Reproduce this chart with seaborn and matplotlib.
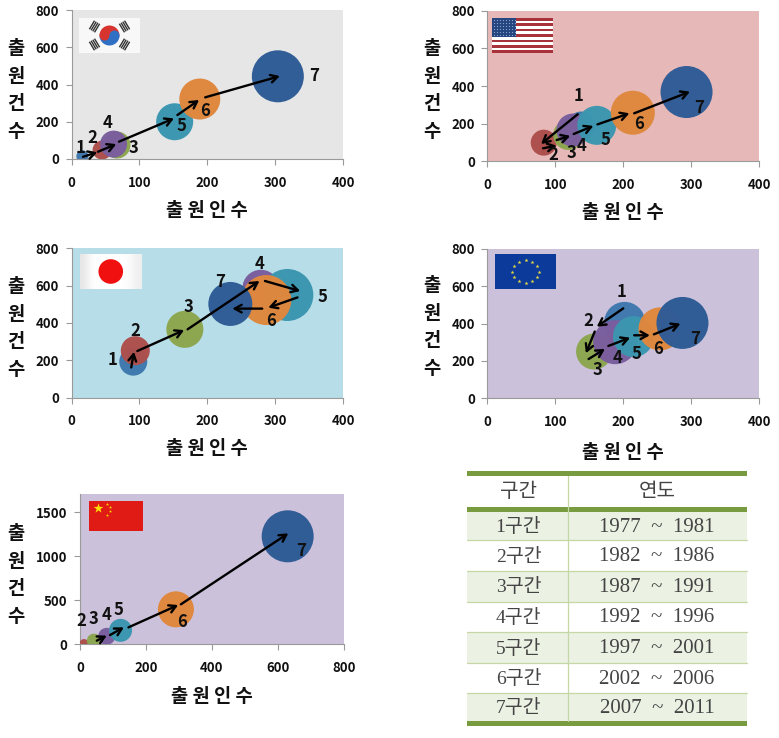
import numpy as np
import pandas as pd
import matplotlib
matplotlib.use("Agg")
import matplotlib.pyplot as plt
from matplotlib.patches import Rectangle, Circle, Wedge
import seaborn as sns

W, H = 779, 738

# ---------- data ----------
stages = [1, 2, 3, 4, 5, 6, 7]
kr_x = [16, 45, 67, 62, 152, 189, 304]
kr_y = [15, 48, 75, 80, 200, 322, 444]
kr_size = [12, 19, 27, 27, 37, 41, 52]
kr_ax0 = [17, 39, 70, 156, 197]
kr_ay0 = [12, 39, 93, 236, 331]
kr_ax1 = [38, 66, 151, 188, 307]
kr_ay1 = [36, 80, 218, 317, 445]

us_x = [138, 83, 119, 126, 161, 214, 293]
us_y = [190, 99, 140, 166, 191, 258, 368]
us_size = [28, 26, 30, 33, 39, 44, 52]
us_ax0 = [133, 82, 102, 127, 162, 216]
us_ay0 = [250, 69, 113, 145, 196, 255]
us_ax1 = [79, 102, 122, 156, 209, 298]
us_ay1 = [92, 83, 135, 188, 255, 370]

jp_x = [91, 94, 167, 279, 318, 287, 234]
jp_y = [193, 252, 366, 586, 550, 523, 502]
jp_size = [28, 29, 37, 37, 52, 50, 44]
jp_ax0 = [88, 97, 171, 285, 333, 281]
jp_ay0 = [162, 250, 366, 625, 537, 477]
jp_ax1 = [92, 166, 277, 337, 290, 237]
jp_ay1 = [246, 362, 625, 571, 482, 477]

eu_x = [202, 188, 157, 188, 215, 254, 287]
eu_y = [406, 310, 250, 300, 330, 371, 403]
eu_size = [41, 20, 36, 44, 41, 43, 52]
eu_ax0 = [200, 158, 149, 178, 216, 245]
eu_ay0 = [481, 357, 210, 280, 337, 342]
eu_ax1 = [161, 145, 173, 210, 239, 284]
eu_ay1 = [383, 241, 264, 324, 337, 399]

cn_x = [12, 42, 81, 123, 291, 630]
cn_y = [5, 38, 87, 155, 394, 1224]
cn_size = [9, 14, 17, 23, 36, 52]
cn_stage = [2, 3, 4, 5, 6, 7]
cn_ax0 = [51, 91, 147, 306]
cn_ay0 = [38, 102, 189, 451]
cn_ax1 = [81, 133, 298, 632]
cn_ay1 = [95, 189, 443, 1258]

table_head = ["구간", "연도"]
table_periods = ["1구간", "2구간", "3구간", "4구간", "5구간", "6구간", "7구간"]
table_years = ["1977  ~  1981", "1982  ~  1986", "1987  ~  1991", "1992  ~  1996",
               "1997  ~  2001", "2002  ~  2006", "2007  ~  2011"]

x_label = "출 원 인 수"
y_label = "출\n원\n건\n수"

# ---------- style ----------
sns.set_theme(style="ticks")
KR = ["Noto Sans CJK KR", "DejaVu Sans"]
plt.rcParams["font.family"] = KR
palette = {1: "#3F78AE", 2: "#AD4F4C", 3: "#8CA64E", 4: "#7A5E9E",
           5: "#3B96AF", 6: "#DF873D", 7: "#2E5B96"}
GRAY = "#9a9a9a"

fig = plt.figure(figsize=(W / 100, H / 100), dpi=100, facecolor="white")


def px_axes(l, t, r, b, **kw):
    return fig.add_axes([l / W, 1 - b / H, (r - l) / W, (b - t) / H], **kw)


def panel(box, bg, xlim, ylim, xt, yt, st, xs, ys, ds, a0x, a0y, a1x, a1y, offs, xl_px, yl_px):
    l, t, r, b = box
    ax = px_axes(l, t, r, b)
    ax.set_facecolor(bg)
    df = pd.DataFrame({"x": xs, "y": ys, "d": ds, "stage": st})
    sns.scatterplot(data=df, x="x", y="y", hue="stage", palette=palette, size="d",
                    sizes={d: (d * 0.72) ** 2 for d in set(ds)}, legend=False,
                    linewidth=0, alpha=0.98, ax=ax, zorder=3)
    ax.set_xlim(*xlim)
    ax.set_ylim(*ylim)
    ax.set_xticks(xt)
    ax.set_yticks(yt)
    ax.tick_params(length=4, width=0.8, color=GRAY, labelsize=9.5, pad=5)
    ax.tick_params(axis="x", pad=8)
    for lab in ax.get_xticklabels() + ax.get_yticklabels():
        lab.set_fontweight("bold")
        lab.set_color("#111111")
    for s in ["top", "right"]:
        ax.spines[s].set_visible(False)
    for s in ["left", "bottom"]:
        ax.spines[s].set_color(GRAY)
        ax.spines[s].set_linewidth(0.8)
    for x0, y0, x1, y1 in zip(a0x, a0y, a1x, a1y):
        ax.annotate("", xy=(x1, y1), xytext=(x0, y0), zorder=5,
                    arrowprops=dict(arrowstyle="->,head_length=0.45,head_width=0.25",
                                    lw=1.7, color="black", shrinkA=0, shrinkB=0,
                                    mutation_scale=11))
    for s, x, y, (dx, dy) in zip(st, xs, ys, offs):
        ax.annotate(str(s), xy=(x, y), xytext=(dx, dy), textcoords="offset pixels",
                    ha="center", va="center", fontsize=12, fontweight="bold",
                    color="#111111", zorder=6)
    ax.set_xlabel(x_label, fontsize=13.5, fontweight="bold", color="#111111", va="center")
    ax.xaxis.set_label_coords(0.5, (b - xl_px - 2) / (b - t))
    ax.set_ylabel(y_label, fontsize=13.5, fontweight="bold", rotation=0, ha="center",
                  va="center", linespacing=1.59, color="#111111")
    ax.yaxis.set_label_coords((yl_px[0] - l) / (r - l), (b - yl_px[1]) / (b - t))
    return ax


panel((71.5, 10, 343, 159), "#E6E6E6", (0, 400), (0, 800), range(0, 401, 100), range(0, 801, 200),
      stages, kr_x, kr_y, kr_size, kr_ax0, kr_ay0, kr_ax1, kr_ay1,
      [(-2, 8), (-10, 12), (17, -3), (-6, 21), (7, -4), (5, -12), (36, 0)], 209, (16, 90))
panel((487.3, 10.7, 759.3, 161.3), "#E6B8B7", (0, 400), (0, 800), range(0, 401, 100), range(0, 801, 200),
      stages, us_x, us_y, us_size, us_ax0, us_ay0, us_ax1, us_ay1,
      [(-3, 30), (10, -12), (3, -18), (9, -16), (9, -15), (6, -11), (13, -16)], 211, (432, 90))
panel((71.5, 248.3, 343, 397.7), "#B7DDE8", (0, 400), (0, 800), range(0, 401, 100), range(0, 801, 200),
      stages, jp_x, jp_y, jp_size, jp_ax0, jp_ay0, jp_ax1, jp_ay1,
      [(-21, 2), (0, 20), (4, 22), (-1, 24), (35, -2), (5, -21), (-10, 22)], 447, (16, 328))
panel((487.3, 248.7, 759.3, 398.3), "#CCC1DA", (0, 400), (0, 800), range(0, 401, 100), range(0, 801, 200),
      stages, eu_x, eu_y, eu_size, eu_ax0, eu_ay0, eu_ax1, eu_ay1,
      [(-3, 30), (-27, 19), (3, -18), (2, -16), (3, -17), (-2, -20), (13, -16)], 450, (432, 327))
panel((80, 494, 343.7, 644), "#CCC1DA", (0, 800), (0, 1705), range(0, 801, 200), range(0, 1501, 500),
      cn_stage, cn_x, cn_y, cn_size, cn_ax0, cn_ay0, cn_ax1, cn_ay1,
      [(-3, 23), (0, 22), (0, 21), (-2, 20), (6, -13), (13, -15)], 694, (16, 575))


# ---------- flags ----------
def flag_axes(l, t, r, b):
    a = px_axes(l, t, r, b, zorder=10)
    a.set_xlim(0, r - l)
    a.set_ylim(b - t, 0)
    a.axis("off")
    return a, r - l, b - t


# Korea
a, w, h = flag_axes(79, 18, 140, 53)
a.add_patch(Rectangle((0, 0), w, h, color="#F8F8F8", lw=0))
cx, cy = w / 2, h / 2
a.add_patch(Wedge((cx, cy), 10, 180, 360, color="#D8342F", lw=0))
a.add_patch(Wedge((cx, cy), 10, 0, 180, color="#2F6FC4", lw=0))
a.add_patch(Circle((cx - 5, cy), 5, color="#D8342F", lw=0))
a.add_patch(Circle((cx + 5, cy), 5, color="#2F6FC4", lw=0))
for sx, sy in [(-1, -1), (1, -1), (-1, 1), (1, 1)]:
    nx, ny = sx * 15 / 17.5, sy * 9 / 17.5
    bx, by = -ny, nx
    for k in (-3, -1, 1, 3):
        mx = cx + nx * (17.5 + k)
        my = cy + ny * (17.5 + k)
        a.plot([mx - bx * 5, mx + bx * 5], [my - by * 5, my + by * 5], color="#333333",
               lw=1.0, solid_capstyle="butt")

# USA
a, w, h = flag_axes(492, 18, 553, 53)
a.add_patch(Rectangle((0, 0), w, h, color="white", lw=0))
for i in range(0, 13, 2):
    a.add_patch(Rectangle((0, i * h / 13), w, h / 13, color="#A8323A", lw=0))
a.add_patch(Rectangle((0, 0), 24, h * 7 / 13, color="#24457F", lw=0))
gx, gy = np.meshgrid(np.arange(2, 24, 3), np.arange(2, 19, 3))
a.scatter(gx, gy, s=0.8, color="#8FA4CC", lw=0)

# Japan
a, w, h = flag_axes(80, 254, 141.5, 289)
a.imshow(np.array([[0.9, 0.99, 1.0, 1.0, 1.0, 1.0, 0.98, 0.93]]), extent=(0, w, h, 0), cmap="gray",
         vmin=0, vmax=1, aspect="auto", interpolation="bicubic")
a.add_patch(Circle((w * 0.5, h * 0.5), 12.3, color="#F01010", lw=0))
a.set_xlim(0, w)
a.set_ylim(h, 0)

# EU
a, w, h = flag_axes(495, 254, 556, 289)
a.add_patch(Rectangle((0, 0), w, h, color="#0B3A9A", lw=0))
ang = np.arange(12) * np.pi / 6
a.scatter(w / 2 + 13.5 * np.cos(ang), h / 2 + 11.5 * np.sin(ang), marker="*", s=9, color="#E8DC40", lw=0)

# China
a, w, h = flag_axes(89, 501, 143, 531)
a.add_patch(Rectangle((0, 0), w, h, color="#E01A14", lw=0))
a.scatter([9], [7], marker="*", s=55, color="#FFE000", lw=0)
a.scatter([18, 21, 21, 18], [2.5, 6, 10, 13.5], marker="*", s=6, color="#FFD000", lw=0)

# ---------- table ----------
t = fig.add_axes([0, 0, 1, 1], zorder=1)
t.set_xlim(0, W)
t.set_ylim(H, 0)
t.axis("off")
GREEN, SHADE, RULE = "#779B3E", "#EBF1E3", "#C4D7A4"
row_edges = [512, 539.5, 570.5, 601.5, 631.5, 662.5, 692.5, 721]
L, M, R = 467, 568, 747
for i in range(7):
    y0, y1 = row_edges[i], row_edges[i + 1]
    if i % 2 == 0:
        t.add_patch(Rectangle((L, y0), R - L, y1 - y0, color=SHADE, lw=0))
    if i < 6:
        t.plot([L, R], [y1, y1], color=RULE, lw=0.9)
    yc = (y0 + y1) / 2 + 1.5
    t.text((L + M) / 2 + 1, yc, table_periods[i], ha="center", va="center", fontsize=14,
           family=["Liberation Serif", "Noto Sans CJK KR"], color="#444444")
    t.text(657, yc, table_years[i], ha="center", va="center", fontsize=15,
           family=["Liberation Serif", "DejaVu Sans"], color="#444444")
t.plot([M, M], [476, 721], color=RULE, lw=0.9)
t.text((L + M) / 2 + 1, 491.5, table_head[0], ha="center", va="center", fontsize=14.5, color="#444444")
t.text(657, 491.5, table_head[1], ha="center", va="center", fontsize=14.5, color="#444444")
for y0, y1 in [(471, 476), (507, 512), (721, 726)]:
    t.add_patch(Rectangle((L, y0), R - L, y1 - y0, color=GREEN, lw=0))

fig.savefig("out.png", dpi=100)
